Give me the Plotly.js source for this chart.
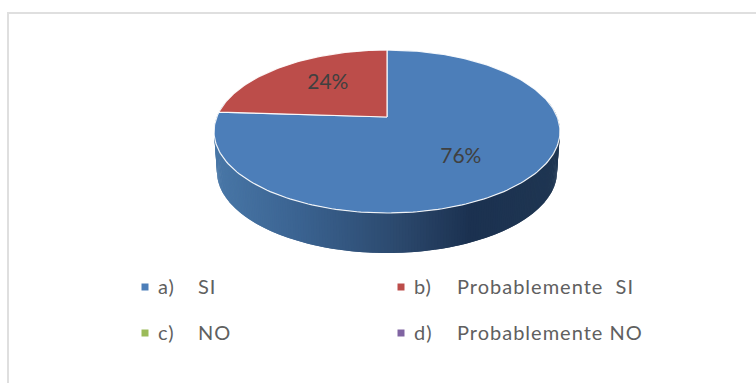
<!DOCTYPE html>
<html>
<head>
<meta charset="utf-8">
<script src="https://cdn.plot.ly/plotly-3.0.1.min.js"></script>
<style>
html,body{margin:0;padding:0;background:#fff}
#chart .keytext text{letter-spacing:1px}
</style>
</head>
<body>
<div id="chart" style="width:756px;height:383px"></div>
<script>
// Survey answers, in percent
const answerKeys = ['a)', 'b)', 'c)', 'd)'];
const answerNames = ['SI', 'Probablemente\u00a0\u00a0SI', 'NO', 'Probablemente\u00a0NO'];
const answerValues = [76, 24, 0, 0];
const answerColors = ['#4c7eb9', '#bc4d4a', '#9bbb59', '#8064a2'];

// Pie disc seen in perspective: a unit circle projected on the page
const apexX = 387, apexY = 117, tilt = 0.178, spanX = 170.2, spanY = 78.9;
const rimDrop = 40, rimShrink = 0.983;

function project(angle, r) {
  const ux = r * Math.sin(angle), uy = r * Math.cos(angle);
  const d = 1 + tilt * uy;
  return [apexX + spanX * ux / d, apexY - spanY * uy / d];
}
function rimBottom(angle) {
  const p = project(angle, 1);
  return [apexX + (p[0] - apexX) * rimShrink, p[1] + rimDrop];
}

// Shading along the outer wall, left to right
const wallStops = [[217,[72,118,166]],[300,[58,98,144]],[400,[43,72,108]],[470,[27,49,80]],[558,[31,54,82]]];
function wallColor(x) {
  for (let i = 1; i < wallStops.length; i++) {
    if (x <= wallStops[i][0]) {
      const a = wallStops[i-1], b = wallStops[i], t = Math.max(0, (x - a[0]) / (b[0] - a[0]));
      return 'rgb(' + a[1].map((v, k) => Math.round(v + (b[1][k] - v) * t)).join(',') + ')';
    }
  }
  return 'rgb(31,54,82)';
}

const traces = [];
const hidden = {mode: 'lines', hoverinfo: 'skip', showlegend: false, type: 'scatter'};

// Outer wall as narrow overlapping strips
const wallSteps = 240, wallFrom = 78 * Math.PI / 180, wallTo = 282 * Math.PI / 180;
for (let i = 0; i < wallSteps; i++) {
  const a0 = wallFrom + (wallTo - wallFrom) * i / wallSteps;
  const a1 = wallFrom + (wallTo - wallFrom) * (i + 2) / wallSteps;
  const pts = [project(a0, 1), project(a1, 1), rimBottom(a1), rimBottom(a0)];
  const c = wallColor((pts[0][0] + pts[1][0]) / 2);
  traces.push(Object.assign({}, hidden, {
    x: pts.map(p => p[0]).concat(pts[0][0]),
    y: pts.map(p => p[1]).concat(pts[0][1]),
    fill: 'toself', fillcolor: c, line: {color: c, width: 0}
  }));
}

// Top face: one wedge per answer, clockwise from twelve o'clock
const total = answerValues.reduce((s, v) => s + v, 0);
let running = 0;
const wedgeMid = [];
answerValues.forEach((v, i) => {
  const start = running / total * 2 * Math.PI;
  running += v;
  const end = running / total * 2 * Math.PI;
  wedgeMid.push((start + end) / 2);
  if (v === 0) return;
  const xs = [apexX], ys = [apexY];
  const n = Math.ceil(v * 3);
  for (let k = 0; k <= n; k++) {
    const p = project(start + (end - start) * k / n, 1);
    xs.push(p[0]); ys.push(p[1]);
  }
  xs.push(apexX); ys.push(apexY);
  traces.push(Object.assign({}, hidden, {
    x: xs, y: ys, fill: 'toself', fillcolor: answerColors[i],
    line: {color: 'rgba(255,255,255,0.9)', width: 1.2}
  }));
});

// Text baselines sit a little high in a middle-anchored label
const textDrop = 2;

// Percentage labels on the two visible wedges
const labelRadius = [0.60, 0.61], labelTurn = [1.5, 5];
const shown = answerValues.map((v, i) => i).filter(i => answerValues[i] > 0);
const labelPts = shown.map(i => project(wedgeMid[i] + labelTurn[i] * Math.PI / 180, labelRadius[i]));
traces.push({
  type: 'scatter', mode: 'text', hoverinfo: 'skip', showlegend: false,
  x: labelPts.map(p => p[0]), y: labelPts.map(p => p[1] + textDrop),
  text: shown.map(i => answerValues[i] + '%'),
  textposition: 'middle center',
  textfont: {family: 'Lato', size: 21, color: '#404040'}
});

// Key below the pie: two columns, two rows
const keyCols = [145, 401], keyRows = [287, 333], keyGap = 13, nameGap = 53, nameStart = 56;
const keyX = answerKeys.map((k, i) => keyCols[i % 2]);
const keyY = answerKeys.map((k, i) => keyRows[Math.floor(i / 2)]);
const keyFont = {family: 'Lato', size: 20, color: '#606060'};
traces.push({
  type: 'scatter', mode: 'markers', hoverinfo: 'skip', showlegend: false,
  x: keyX, y: keyY, cliponaxis: false,
  marker: {symbol: 'square', size: 7, color: answerColors}
});
traces.push({
  type: 'scatter', mode: 'text', hoverinfo: 'skip', showlegend: false,
  x: keyX.map(x => x + keyGap), y: keyY.map(y => y + textDrop), text: answerKeys,
  textposition: 'middle right', textfont: keyFont
});
traces.push({
  type: 'scatter', mode: 'text', hoverinfo: 'skip', showlegend: false,
  x: keyX.map((x, i) => x + (i % 2 ? nameStart : nameGap)), y: keyY.map(y => y + textDrop), text: answerNames,
  textposition: 'middle right', textfont: keyFont
});

const frameColor = '#dfdfdf';
const layout = {
  width: 756, height: 383,
  margin: {l: 0, r: 0, t: 0, b: 0},
  paper_bgcolor: '#ffffff', plot_bgcolor: '#ffffff',
  showlegend: false,
  xaxis: {range: [0, 756], visible: false, fixedrange: true},
  yaxis: {range: [383, 0], visible: false, fixedrange: true},
  shapes: [
    {type: 'line', xref: 'x', yref: 'y', x0: 8, x1: 8, y0: 12, y1: 383, line: {color: frameColor, width: 2}},
    {type: 'line', xref: 'x', yref: 'y', x0: 7, x1: 756, y0: 13, y1: 13, line: {color: frameColor, width: 2}}
  ]
};
Plotly.newPlot('chart', traces, layout, {displayModeBar: false, staticPlot: true}).then(() => {
  // Slightly open tracking on the key text
  document.querySelectorAll('#chart .scatterlayer .trace').forEach((t, i, all) => {
    if (i >= all.length - 2) t.classList.add('keytext');
  });
});
</script>
</body>
</html>
